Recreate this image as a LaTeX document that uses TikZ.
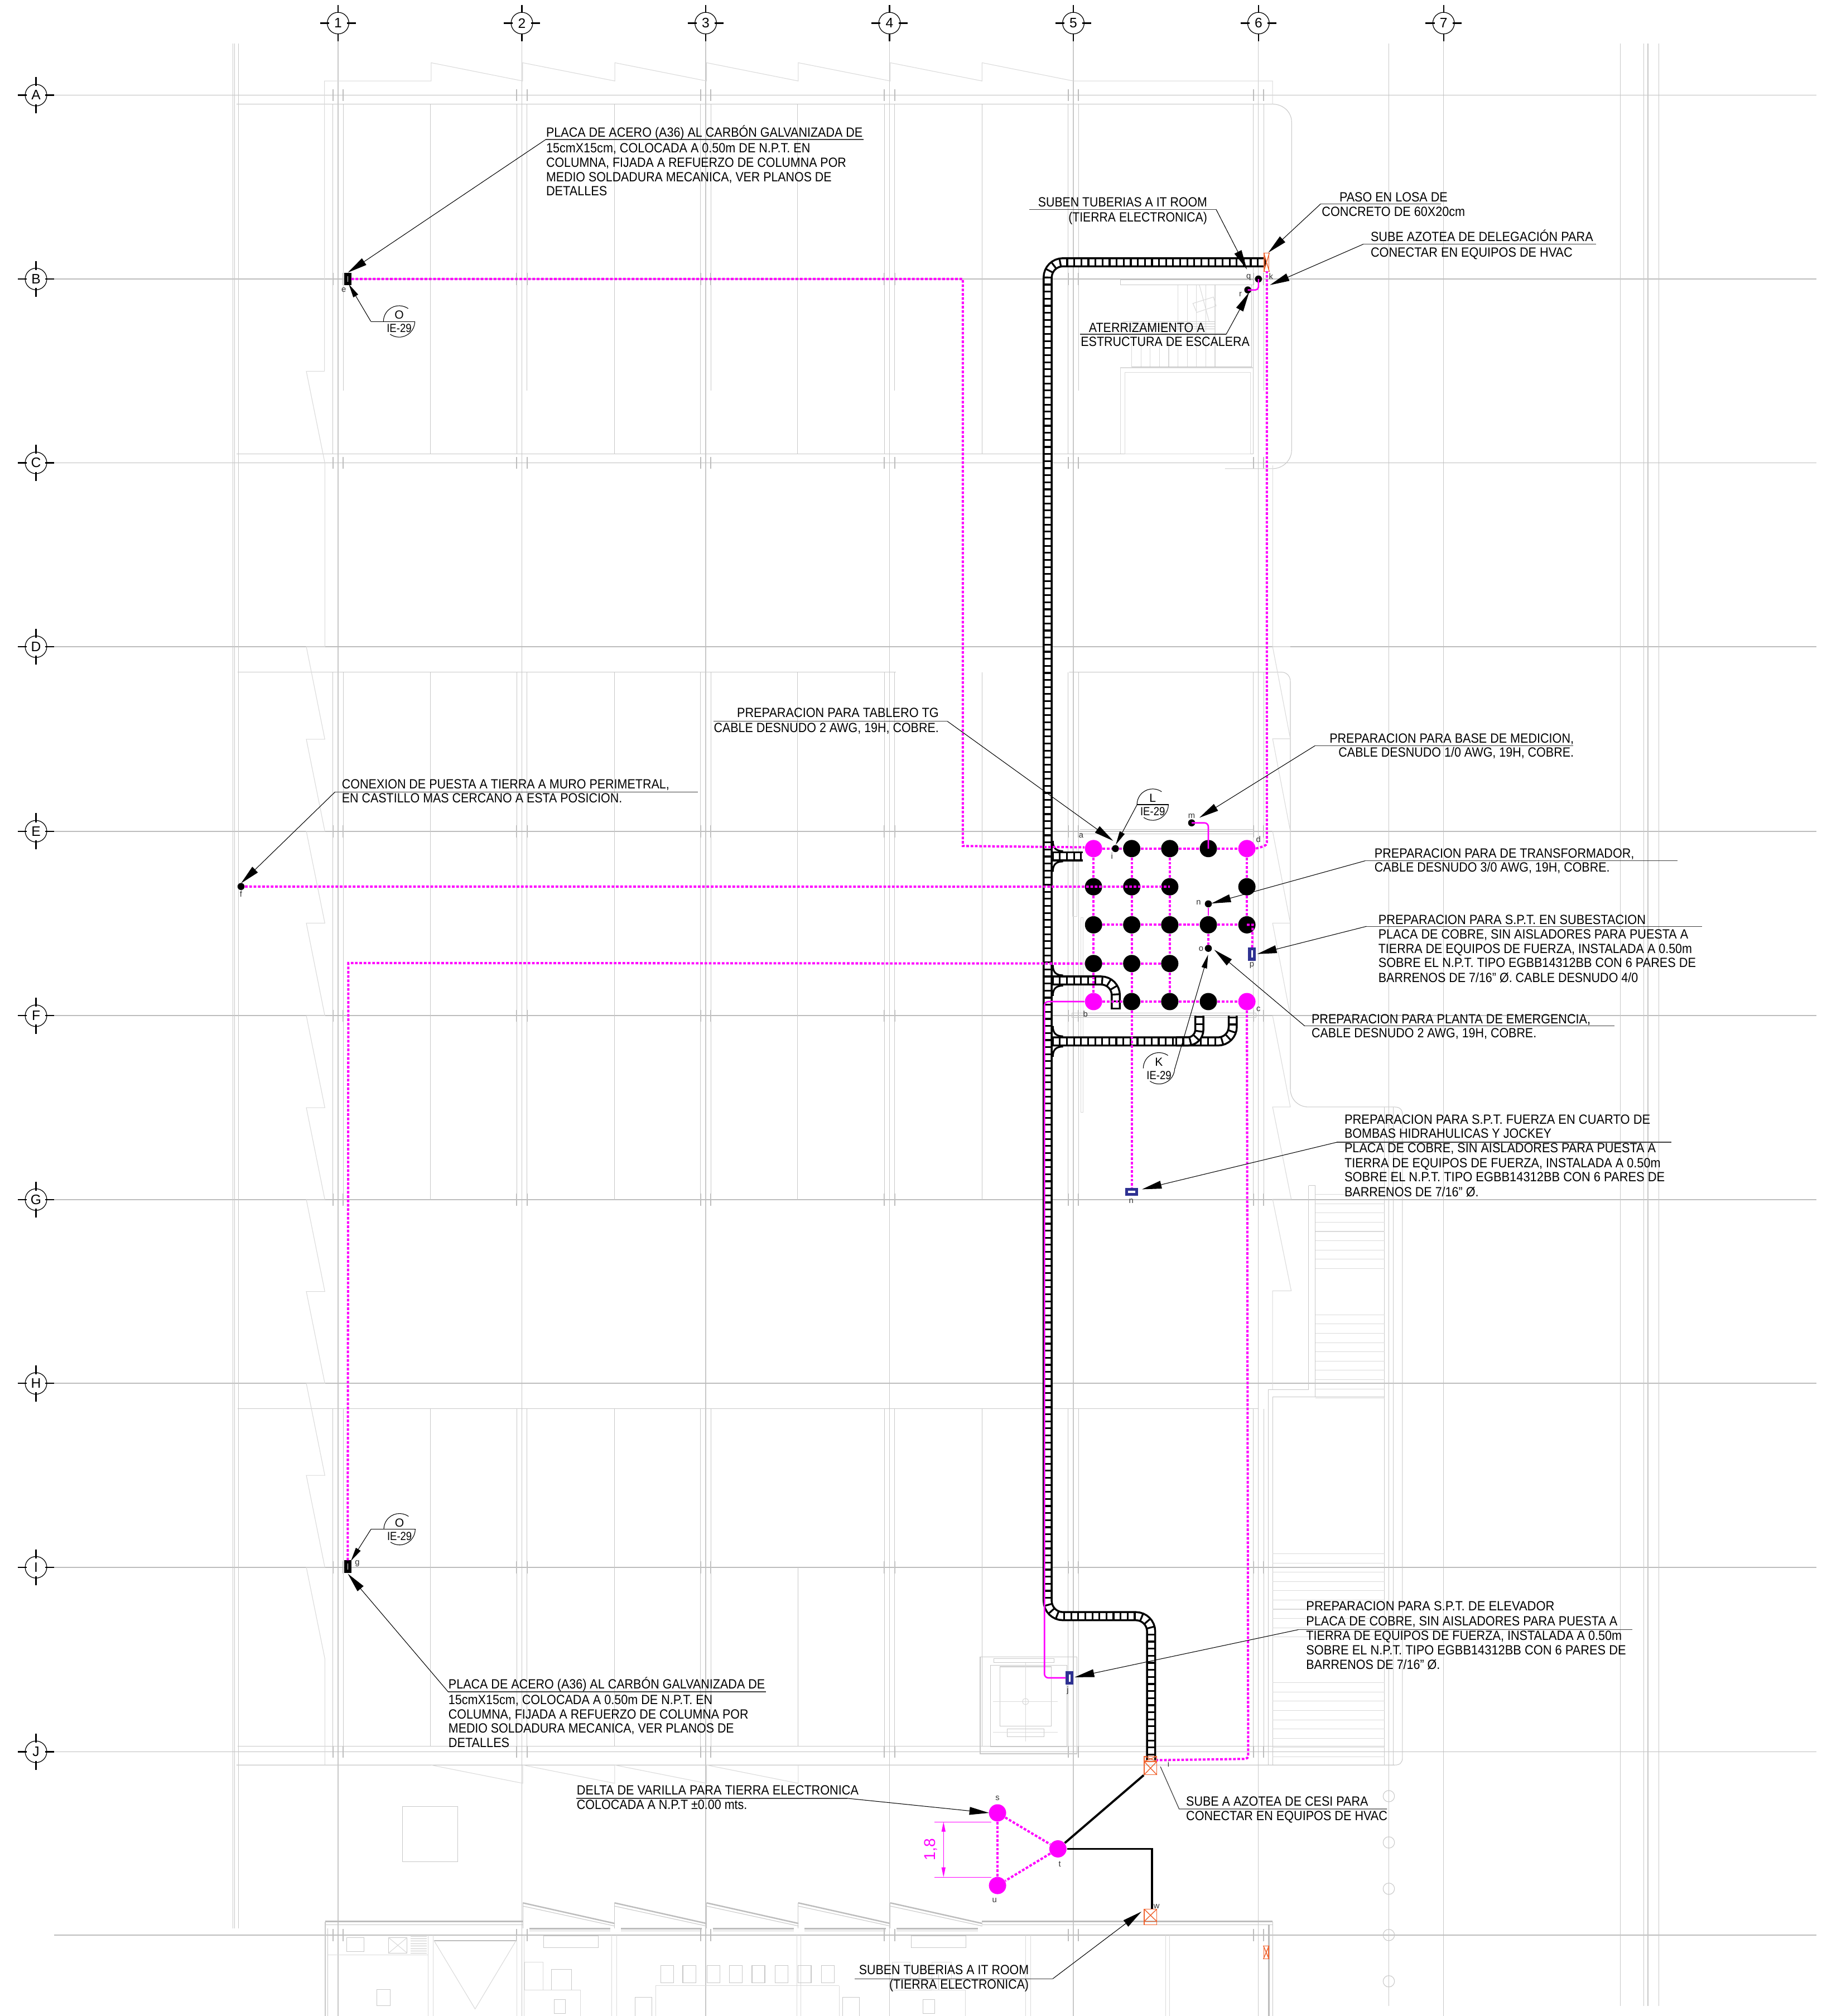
\documentclass[tikz,border=0pt]{standalone}
\usepackage{fontspec}
\usepackage{graphicx}
\setmainfont{Liberation Sans}
\usetikzlibrary{arrows.meta,decorations.markings}
\newdimen\uu \uu=0.02304cm
\newcount\tlc
\definecolor{pk}{HTML}{FF00FF}
\definecolor{gA}{HTML}{BDBDBD}
\definecolor{gB}{HTML}{C8C8C8}
\definecolor{gC}{HTML}{DADADA}
\definecolor{org}{HTML}{F0622D}
\definecolor{blu}{HTML}{2E3192}
\tikzset{
 rowl/.style={draw=gA,line width=.5pt},
 coll/.style={draw=gB,line width=.32pt},
 tck/.style={draw=gA,line width=.6pt},
 lg/.style={draw=gB,line width=.3pt},
 lgt/.style={draw=gC,line width=.3pt},
 lgb/.style={draw=gA,line width=.7pt},
 rail/.style={draw=black,line width=1pt,double=white,double distance=3.1pt},
 rungs/.style={decorate,decoration={markings,mark=between positions 0 and 1 step 3.6pt with {\draw[black,line width=.9pt](0pt,-2.1pt)--(0pt,2.1pt);}}},
 gnd/.style={draw=pk,line width=1.15pt,dash pattern=on 1.35pt off .85pt},
 gsolid/.style={draw=pk,line width=.75pt,rounded corners=2pt},
 bignode/.style={circle,fill=black,minimum size=8.8pt,inner sep=0pt},
 pknode/.style={circle,fill=pk,minimum size=8.8pt,inner sep=0pt},
 smnode/.style={circle,fill=black,minimum size=3.6pt,inner sep=0pt},
 bubble/.style={circle,draw=black,line width=.35pt,minimum size=11pt,inner sep=0pt,font=\fontsize{7}{8}\selectfont},
 bubt/.style={draw=black,line width=.6pt},
 plateb/.style={rectangle,draw=blu,fill=white,line width=1.5pt,inner sep=0pt},
 platek/.style={rectangle,draw=black,fill=white,line width=1.7pt,inner sep=0pt,minimum width=1.9pt,minimum height=4.6pt},
 ldr/.style={draw=black,line width=.3pt,-{Triangle[length=10pt,width=4pt]}},
 ldrs/.style={draw=black,line width=.3pt,-{Triangle[length=7pt,width=2.8pt]}},
 ul/.style={draw=black!75,line width=.35pt},
 orgl/.style={draw=org,line width=.4pt},
 lab/.style={inner sep=0pt,text=black!80,font=\fontsize{4.2}{5}\selectfont},
 txt/.style={anchor=base west,inner sep=0pt},
 dimt/.style={draw=pk,line width=.3pt},
}
% text line: x, baseline y, end x, text
\newcommand{\tl}[4]{\global\advance\tlc by 1 \pgfmathparse{#3-#1}\edef\tlw{\pgfmathresult}%
 \node[txt] (tl\the\tlc) at (#1,#2) {\resizebox{\tlw\uu}{\height}{\fontsize{6.8}{8}\selectfont #4}};}
% leader: name, shoulder x,y, tip x,y, underline other end x
\newcommand{\lead}[6]{\coordinate (#1s) at (#2,#3);\coordinate (#1t) at (#4,#5);\coordinate (#1e) at (#6,#3);
 \draw[ul] (#1e)--(#1s);\draw[ldr] (#1s)--(#1t);}
% detail tag: name, cx, y, left x of leader, letter, tip x,y
\newcommand{\dtag}[7]{\coordinate (#1c) at (#2,#3);\coordinate (#1s) at (#4,#3);\coordinate (#1t) at (#6,#7);\coordinate (#1e) at ({#2+12.5},#3);
 \draw[black,line width=.3pt] (#1s)--(#1e);
 \draw[black,line width=.3pt] ([shift={(55:8pt)}]#1c) arc[start angle=55,end angle=180,radius=8pt];
 \draw[black,line width=.3pt] ([shift={(0:8pt)}]#1c) arc[start angle=0,end angle=-125,radius=8pt];
 \draw[ldrs] (#1s)--(#1t);
 \node[inner sep=0pt,font=\fontsize{6}{7}\selectfont] (#1l) at (#2,{#3-5}) {#5};
 \node[inner sep=0pt] (#1i) at (#2,{#3+5.5}) {\resizebox{19.2\uu}{\height}{\fontsize{6}{7}\selectfont IE-29}};}
\newcommand{\tray}[2][0pt]{\draw[rail,rounded corners=#1]#2;\path[rungs,rounded corners=#1]#2;}
\newcommand{\flare}[1]{\draw[black,line width=.9pt] (819,#1-12) .. controls (819,#1-6) and (822,#1-4) .. (827,#1-4);\draw[black,line width=.9pt] (819,#1+12) .. controls (819,#1+6) and (822,#1+4) .. (827,#1+4);}
\begin{document}
\begin{tikzpicture}[x=0.02304cm,y=-0.02304cm]
\useasboundingbox (0,0) rectangle (1417,1568);
\fill[white] (0,0) rectangle (1417,1568);
%%% ---------- background grid
\foreach \x in {263,406,549,692,835,979,1123} \draw[coll] (\x,26)--(\x,1568);
\foreach \y in {74,217,360,503,646.5,790,933,1076,1219,1362.5,1505} \draw[rowl] (42,\y)--(1413,\y);
\foreach \x in {181.2,182.6,185.7} \draw[coll] (\x,34)--(\x,1500);
\foreach \x in {1080.4,1260.5,1278.6,1282,1290.6} \draw[coll] (\x,34)--(\x,1560);
\foreach \x in {263,406,549,692,835,979} \foreach \y in {74,217,360,646.5,790,933,1219,1362.5,1505}
 {\draw[tck] (\x-4,\y-4.7)--(\x-4,\y+4.7);\draw[tck] (\x+4,\y-4.7)--(\x+4,\y+4.7);}
%%% blocks
\draw[lg] (184,81)--(990,81) .. controls (998,81) and (1004.8,87) .. (1004.8,95)--(1004.8,350) .. controls (1004.8,358) and (998,364.5) .. (990,364.5)--(953,364.5);
\draw[lg] (184,353)--(975,353);
\draw[lg] (185,522.8)--(697,522.8);
\draw[lg] (831.7,522.8)--(997,522.8) .. controls (1001,522.8) and (1003.8,526) .. (1003.8,530)--(1003.8,847) .. controls (1003.8,855) and (1010,861) .. (1018,861)--(1085,861) .. controls (1089,861) and (1091,863) .. (1091,867)--(1091,1367) .. controls (1091,1371) and (1089,1372.8) .. (1085,1372.8)--(184,1372.8);
\draw[lg] (185,1095.6)--(979,1095.6);
\draw[lg] (185,1358)--(1077,1358);
\foreach \x in {335,478,620.5,764} {\draw[lg] (\x,81)--(\x,353);\draw[lg] (\x,522.8)--(\x,933);}
\foreach \x in {335,478,764} \draw[lg] (\x,1095.6)--(\x,1358);
\draw[lg] (621,1219)--(621,1358);
\foreach \x in {263,406,549,692,835,979} {
 \draw[lg] (\x-4,81)--(\x-4,353);\draw[lg] (\x+4,81)--(\x+4,304);
 \draw[lg] (\x-4,522.8)--(\x-4,933);\draw[lg] (\x+4,522.8)--(\x+4,933);
 \draw[lg] (\x-4,1095.6)--(\x-4,1358);\draw[lg] (\x+4,1095.6)--(\x+4,1358);}
%%% saw-tooth outline top
\draw[lgt] (252.4,288.8)--(252.4,63)--(335.4,63)--(335.4,48.8)--(406.6,63)--(406.6,48.8)--(478.3,63)--(478.3,48.8)--(549.7,63)--(549.7,48.8)--(621,63)--(621,48.8)--(692.6,63)--(692.6,48.8)--(764,63)--(764,48.8)--(835,63)--(990,63)--(990,81);
%%% left wall zigzag
\draw[lgt] (252.4,288.8)--(238.3,288.8)--(252.7,360)--(252.7,503)--(238.3,503)--(252.7,575)--(238.3,575)--(252.7,646.5)--(238.3,646.5)--(252.7,718)--(238.3,718)--(252.7,790)--(238.3,790)--(252.7,861.5)--(238.3,861.5)--(252.7,933)--(238.3,933)--(252.7,1004.5)--(238.3,1004.5)--(252.7,1076)--(238.3,1076)--(252.7,1147.5)--(238.3,1147.5)--(252.7,1219)--(238.3,1219)--(252.7,1290)--(252.7,1372.8);
%%% right wall zigzag
\draw[lgt] (990,362)--(990,503)--(1003.8,503);
\draw[lgt] (990,503)--(1003.8,574.6)--(990,574.6)--(1003.8,646.5)--(990,646.5)--(1003.8,718)--(990,718)--(1003.8,790)--(990,790)--(1003.8,861)--(990,861)--(1004.5,932.7)--(990,932.7)--(1004.5,1004)--(990,1004)--(990,1081);
%%% saw-tooth below J
\draw[lgt] (335.3,1372.8)--(406.7,1387)--(406.7,1372.8)--(478.2,1387)--(478.2,1372.8)--(549.7,1387)--(549.7,1372.8)--(621,1387)--(621,1372.8);
\draw[lg] (313,1405) rectangle (356,1448);
%%% stair lower right block
\draw[lg] (1018,922)--(1023.3,922)--(1023.3,1086.6);\draw[lg] (1018,922)--(1018,1081)--(986.6,1081)--(986.6,1372.8);
\draw[lg] (990,1086.6)--(1077,1086.6);\draw[lg] (990,1086.6)--(990,1372.8);
\draw[lg] (1077,861)--(1077,1372.8);\draw[lg] (1084,861)--(1084,1372.8);
\foreach \k in {0,...,8} \draw[lgt] (1023.3,{929+7.2*\k})--(1077,{929+7.2*\k});
\foreach \k in {0,...,9} \draw[lgt] (1023.3,{1022.6+7.2*\k})--(1077,{1022.6+7.2*\k});
\foreach \k in {0,...,9} \draw[lgt] (990,{1208.4+7.2*\k})--(1077,{1208.4+7.2*\k});
\foreach \k in {0,...,8} \draw[lgt] (990,{1308.8+7.2*\k})--(1077,{1308.8+7.2*\k});
%%% stair top
\draw[lg] (871.6,217.5) rectangle (975,221.6);
\foreach \k in {5,...,9} \draw[lgt] ({880.4+7.2*\k},221.6)--({880.4+7.2*\k},285.7);
\foreach \k in {0,...,4} \draw[lgt] ({880.4+7.2*\k},264.8)--({880.4+7.2*\k},285.7);
\foreach \y in {250.3,252,254,256} \draw[lg] (873.4,\y)--(945,\y);
\draw[lg] (973.6,221.6)--(973.6,285.7);
\draw[lgb] (880.4,285.7)--(974,285.7);
\draw[lgt] (871.6,286)--(974.6,286);\draw[lgt] (871.6,286)--(871.6,353);
\draw[lgt] (875.2,289.8) rectangle (972.7,353);
\draw[lgt] (933,221.6)--(940.6,250);\draw[lgt] (928,236)--(931,243)--(946,238)--(944,231)--cycle;
%%% substation background
\draw[lg] (840,645)--(975,645);\draw[lg] (840,648.4)--(975,648.4);
\draw[lgt] (834.3,659) rectangle (837.7,713);
\draw[lgt] (841,713.6) rectangle (842.6,865);
\draw[lg] (834,788) rectangle (977,791.4);
%%% elevator
\draw[lg] (762.5,1288.9) rectangle (837.7,1364);
\draw[lg] (770.5,1295.4) rectangle (829.9,1358.7);
\draw[lg] (777.8,1296.3) rectangle (817.7,1342.5);
\draw[lgt] (772.7,1323.4)--(822.7,1323.4);\draw[lgt] (797.8,1293)--(797.8,1354.4);
\draw[lgt] (797.8,1323.4) circle[radius=1.6pt];
\draw[lg] (783.5,1344.6) rectangle (812,1350.8);
\draw[lgt] (772.7,1347.5)--(822.7,1347.5);
\draw[lg] (773,1290) rectangle (820,1293);
%%% small circles right
\foreach \y in {1397,1433,1469,1505,1541} \draw[lg] (1080.4,\y) circle[radius=2.9pt];
%%% bottom strip
\draw[lgb] (253,1494.5)--(406.7,1494.5);\draw[lg] (253,1497)--(406.7,1497);
\draw[lgb] (764,1494.5)--(990,1494.5);\draw[lg] (764,1497)--(990,1497);
\foreach \x in {406.7,478,549.7,621,692.6} {
 \draw[lgb] (\x,1480)--({\x+71.5},1496);\draw[lg] (\x,1482.5)--({\x+71.5},1498);\draw[lg] (\x,1480)--(\x,1500);
 \draw[lgb] (\x+5,1500)--(\x+68,1500);\draw[lg] (\x+5,1502)--(\x+68,1502);}
\draw[lgb] (987,1497)--(987,1568);\draw[lg] (990,1494.5)--(990,1568);
\draw[lg] (253,1494.5)--(253,1568);\draw[lg] (255,1500)--(255,1568);
\foreach \x in {333,337,402,407.7,476,479.6,620,623,798,801.7,906.6,910} \draw[lgt] (\x,1505)--(\x,1568);
\draw[lg] (422.8,1505.7) rectangle (465.5,1515);
\draw[lg] (709,1505.7) rectangle (751.5,1515);
\draw[lg] (302.3,1507) rectangle (316.7,1519);\draw[lgt] (302.3,1507)--(316.7,1519);\draw[lgt] (302.3,1519)--(316.7,1507);
\foreach \k in {0,...,7} \draw[lg] (319.5,{1506+1.9*\k})--(332,{1506+1.9*\k});
\draw[lg] (269.6,1507) rectangle (283,1518);
\draw[lgt] (255,1520.5)--(333,1520.5);
\draw[lgb] (337.6,1509.3)--(401.5,1509.3);\draw[lgt] (337.6,1509.3)--(369.6,1562.5)--(401.5,1509.3);
\draw[lgt] (408,1526) rectangle (422.5,1548);
\draw[lg] (429,1531.6) rectangle (444.5,1548);
\draw[lgt] (408,1548)--(451.5,1548)--(451.5,1568);
\draw[lg] (431,1555) rectangle (440,1566);
\foreach \x in {514,531.2,550,567.3,585,603,621,639} \draw[lg] (\x,1528.5) rectangle (\x+10,1542.3);
\draw[lgt] (510,1544.5)--(652.8,1544.5);\draw[lgt] (510,1544.5)--(510,1568);\draw[lgt] (652.8,1544.5)--(652.8,1568);
\draw[lg] (494,1553.5) rectangle (507,1568);\draw[lg] (655.4,1553.5) rectangle (668.4,1568);
\draw[lg] (293,1547.4) rectangle (303.4,1560);
\draw[lgt] (695,1548)--(751,1548)--(751,1568);
\draw[lg] (715,1531.6) rectangle (730,1548);\draw[lg] (718,1555) rectangle (727,1566);
\draw[lgt] (694,1526) rectangle (708,1548);
\draw[lgt] (725,1526) rectangle (740,1548);
%%% ---------- bubbles
\foreach \n/\x in {1/263,2/406,3/549,4/692,5/835,6/979,7/1123} {
 \node[bubble] (col\n) at (\x,18) {\n};
 \draw[bubt] (\x-14,18)--(\x-7,18);\draw[bubt] (\x+7,18)--(\x+14,18);\draw[bubt] (\x,4)--(\x,10);\draw[bubt] (\x,26)--(\x,32);}
\foreach \n/\y in {A/74,B/217,C/360,D/503,E/646.5,F/790,G/933,H/1076,I/1219,J/1362.5} {
 \node[bubble] (row\n) at (28,\y) {\n};
 \draw[bubt] (14,\y)--(21,\y);\draw[bubt] (35,\y)--(42,\y);\draw[bubt] (28,\y-14)--(28,\y-7);\draw[bubt] (28,\y+7)--(28,\y+14);}
%%% ---------- cable trays
\tray[7.8pt]{(984,204)--(815,204)--(815,1257)--(895.5,1257)--(895.5,1369)}
\tray{(819,666)--(842.5,666)}
\tray[7.5pt]{(819,762.6)--(868,762.6)--(868,785)}
\tray[7.5pt]{(819,810)--(959,810)--(959,790)}
\tray[6pt]{(915,810)--(933,810)--(933,790)}
\flare{666}\flare{762.6}\flare{810}
%%% ---------- ground nodes
\node[pknode] (a) at (850.7,660) {};
\node[bignode] (r12) at (880.4,660) {};
\node[bignode] (r13) at (910,660) {};
\node[bignode] (r14) at (940,660) {};
\node[pknode] (d) at (970,660) {};
\node[bignode] (r21) at (850.7,689.7) {};
\node[bignode] (r22) at (880.4,689.7) {};
\node[bignode] (r23) at (910,689.7) {};
\node[bignode] (r25) at (970,689.7) {};
\node[bignode] (r31) at (850.7,719.3) {};
\node[bignode] (r32) at (880.4,719.3) {};
\node[bignode] (r33) at (910,719.3) {};
\node[bignode] (r34) at (940,719.3) {};
\node[bignode] (r35) at (970,719.3) {};
\node[bignode] (r41) at (850.7,749.4) {};
\node[bignode] (r42) at (880.4,749.4) {};
\node[bignode] (r43) at (910,749.4) {};
\node[pknode] (b) at (850.7,779) {};
\node[bignode] (r52) at (880.4,779) {};
\node[bignode] (r53) at (910,779) {};
\node[bignode] (r54) at (940,779) {};
\node[pknode] (c) at (970,779) {};
\node[smnode] (i) at (867.7,660) {};
\node[smnode] (m) at (927,640) {};
\node[smnode] (n) at (940,703) {};
\node[smnode] (o) at (940,737.6) {};
\node[smnode] (f) at (187.5,689.5) {};
\node[smnode] (q) at (979,217) {};
\node[smnode] (r) at (970.7,225.5) {};
\node[plateb,minimum width=2.4pt,minimum height=5.2pt] (p) at (974,742) {};
\node[plateb,minimum width=5.2pt,minimum height=2.4pt] (nn) at (880.4,927) {};
\node[plateb,minimum width=2.4pt,minimum height=5.2pt] (j) at (832,1305) {};
\node[platek] (e) at (270.5,217) {};
\node[platek] (g) at (270.5,1218.4) {};
\node[pknode] (s) at (776,1410) {};
\node[pknode] (t) at (823,1438) {};
\node[pknode] (u) at (776,1466.5) {};
%%% orange penetrations
\node[draw=org,line width=.4pt,minimum width=2.5pt,minimum height=9.3pt,inner sep=0pt,rectangle] (ok) at (985.3,204) {};
\draw[orgl] (ok.north west)--(ok.south east);\draw[orgl] (ok.north east)--(ok.south west);
\node[draw=org,line width=.4pt,minimum width=6.5pt,minimum height=9.4pt,inner sep=0pt,rectangle] (oi) at (895,1373.2) {};
\draw[orgl] (890,1370)--(900,1370);\draw[orgl] (890,1370)--(900,1380.4);\draw[orgl] (900,1370)--(890,1380.4);\draw[orgl] (890,1366)--(900,1370);\draw[orgl] (900,1366)--(890,1370);
\node[draw=org,line width=.4pt,minimum width=6.5pt,minimum height=8pt,inner sep=0pt,rectangle] (ow) at (895,1490.9) {};
\draw[orgl] (890,1494.5)--(900,1494.5);\draw[orgl] (890,1484.8)--(900,1494.5);\draw[orgl] (900,1484.8)--(890,1494.5);
\node[draw=org,line width=.4pt,minimum width=2.5pt,minimum height=6.5pt,inner sep=0pt,rectangle] (ox) at (985,1518.5) {};
\draw[orgl] (ox.north west)--(ox.south east);\draw[orgl] (ox.north east)--(ox.south west);
%%% ---------- ground conductors
\draw[gnd] (e)--(749,217)--(749,658)--(a.172);
\draw[gnd] (g)--(271,749)--(r41);
\draw[gnd] (f)--(r23.center);
\draw[gnd] (a)--(i);\draw[gnd] (i)--(r12);\draw[gnd] (r12)--(r13);\draw[gnd] (r13)--(r14);\draw[gnd] (r14)--(d);
\draw[gnd] (r31)--(r32);\draw[gnd] (r32)--(r33);\draw[gnd] (r33)--(r34);\draw[gnd] (r34)--(r35);
\draw[gnd] (r41)--(r42);\draw[gnd] (r42)--(r43);
\draw[gnd] (b)--(r52);\draw[gnd] (r52)--(r53);\draw[gnd] (r53)--(r54);\draw[gnd] (r54)--(c);
\draw[gnd] (a)--(r21);\draw[gnd] (r21)--(r31);\draw[gnd] (r31)--(r41);\draw[gnd] (r41)--(b);
\draw[gnd] (r12)--(r22);\draw[gnd] (r22)--(r32);\draw[gnd] (r32)--(r42);\draw[gnd] (r42)--(r52);\draw[gnd] (r52)--(nn);
\draw[gnd] (r13)--(r23);\draw[gnd] (r23)--(r33);\draw[gnd] (r33)--(r43);\draw[gnd] (r43)--(r53);
\draw[gnd] (d)--(r25);\draw[gnd] (r25)--(r35);
\draw[gnd] (r34)--(o);
\draw[gnd] (r35.center)--(974.5,719.3)--(p);
\draw[gnd,rounded corners=1.5pt] (d.east)--(985.5,657.5)--(985.5,211);
\draw[gnd,rounded corners=1.5pt] (c)--(971,1368)--(900,1369);
\draw[gnd] (s)--(t);\draw[gnd] (t)--(u);\draw[gnd] (s)--(u);
\draw[gsolid] (m.center)--(940,640)--(r14.center);
\draw[gsolid] (n)--(r34);
\draw[gsolid] (b)--(812.5,779)--(812.5,1305)--(j);
\draw[gsolid,rounded corners=1.5pt] (q.center)--(979,225.5)--(r.center);
\draw[black,line width=1.1pt] (t)--(oi.south west);
\draw[black,line width=1.1pt] (t)--(896,1438)--(896,1484.8);
%%% dimension
\coordinate (dt) at (734,1417);\coordinate (db) at (734,1460);
\draw[dimt] (727,1417)--(771,1417);\draw[dimt] (727,1460)--(771,1460);
\draw[dimt,{Triangle[length=5pt,width=2pt]}-{Triangle[length=5pt,width=2pt]}] (dt)--(db);
\node[inner sep=0pt,rotate=90,text=pk,font=\fontsize{8}{9}\selectfont] (dim) at (724,1438.5) {1,8};
%%% ---------- small labels
\foreach \nm/\tx/\x/\y in {la/a/841/650,ld/d/979/653,li/i/865/666,lm/m/927/634.6,ln/n/932.4/702,lo/o/934.3/738,lp/p/973.8/751,lb/b/844.4/788.6,lc/c/979/785,lnn/n/880/934,lj/j/830.7/1314.7,le/e/267.4/225.7,lg/g/278/1216,lf/f/187.5/695.5,lk/k/988.7/215,lq/q/971.3/215.7,lr/r/965/229,lss/s/776/1398.6,ltt/t/824.4/1449.8,luu/u/773.7/1478,lw/w/899.7/1482.6,lii/i/909/1372}
 \node[lab] (\nm) at (\x,\y) {\tx};
%%% ---------- detail tags
\dtag{dO}{310.5}{250}{288.5}{O}{271.3}{221}
\dtag{dP}{310.8}{1189.4}{288.6}{O}{273}{1214}
\dtag{dL}{896.7}{625.8}{884.6}{L}{868}{657}
\dtag{dK}{901.6}{830.9}{914}{K}{939.8}{742.5}
%%% ---------- leaders
\lead{A}{424.6}{108.5}{270.6}{212}{672}
\tl{424.6}{106.7}{670.8}{PLACA DE ACERO (A36) AL CARBÓN GALVANIZADA DE}
\tl{424.6}{118.7}{630}{15cmX15cm, COLOCADA A 0.50m DE N.P.T. EN}
\tl{424.6}{129.9}{658}{COLUMNA, FIJADA A REFUERZO DE COLUMNA POR}
\tl{424.6}{141.1}{646.6}{MEDIO SOLDADURA MECANICA, VER PLANOS DE}
\tl{424.6}{152.2}{472}{DETALLES}
\lead{B}{348.6}{1315.8}{270.6}{1224}{595.9}
\tl{348.6}{1313.3}{594.8}{PLACA DE ACERO (A36) AL CARBÓN GALVANIZADA DE}
\tl{348.6}{1325.5}{554}{15cmX15cm, COLOCADA A 0.50m DE N.P.T. EN}
\tl{348.6}{1336.7}{581.9}{COLUMNA, FIJADA A REFUERZO DE COLUMNA POR}
\tl{348.6}{1347.9}{570.7}{MEDIO SOLDADURA MECANICA, VER PLANOS DE}
\tl{348.6}{1359}{396}{DETALLES}
\lead{C}{260.6}{616}{187.5}{687}{542.8}
\tl{265.7}{613.3}{520.4}{CONEXION DE PUESTA A TIERRA A MURO PERIMETRAL,}
\tl{265.7}{624.3}{483.7}{EN CASTILLO MAS CERCANO A ESTA POSICION.}
\lead{D}{737}{561}{866}{654}{555}
\tl{573}{558}{730}{PREPARACION PARA TABLERO TG}
\tl{555}{569.4}{730}{CABLE DESNUDO 2 AWG, 19H, COBRE.}
\lead{E}{1023}{580}{933}{636}{1224}
\tl{1034}{578}{1224}{PREPARACION PARA BASE DE MEDICION,}
\tl{1041}{588.5}{1224}{CABLE DESNUDO 1/0 AWG, 19H, COBRE.}
\lead{F}{1062}{669.5}{942.3}{702.7}{1305}
\tl{1069}{667.3}{1271}{PREPARACION PARA DE TRANSFORMADOR,}
\tl{1069}{678.3}{1252}{CABLE DESNUDO 3/0 AWG, 19H, COBRE.}
\lead{G}{1063}{720.5}{978}{742}{1324}
\tl{1072}{719}{1280}{PREPARACION PARA S.P.T. EN SUBESTACION}
\tl{1072}{730}{1313}{PLACA DE COBRE, SIN AISLADORES PARA PUESTA A}
\tl{1072}{741.3}{1316}{TIERRA DE EQUIPOS DE FUERZA, INSTALADA A 0.50m}
\tl{1072}{752.5}{1319}{SOBRE EL N.P.T. TIPO EGBB14312BB CON 6 PARES DE}
\tl{1072}{764}{1274}{BARRENOS DE 7/16" Ø. CABLE DESNUDO 4/0}
\lead{H}{1015}{798}{944.6}{738.7}{1256}
\tl{1020}{796}{1237}{PREPARACION PARA PLANTA DE EMERGENCIA,}
\tl{1020}{807}{1195}{CABLE DESNUDO 2 AWG, 19H, COBRE.}
\lead{I}{1040}{888.4}{888.4}{925}{1300}
\tl{1045.6}{874.3}{1283.5}{PREPARACION PARA S.P.T. FUERZA EN CUARTO DE}
\tl{1045.6}{885.3}{1206.6}{BOMBAS HIDRAHULICAS Y JOCKEY}
\tl{1045.6}{896.6}{1287.8}{PLACA DE COBRE, SIN AISLADORES PARA PUESTA A}
\tl{1045.6}{908}{1291.5}{TIERRA DE EQUIPOS DE FUERZA, INSTALADA A 0.50m}
\tl{1045.6}{919}{1294.8}{SOBRE EL N.P.T. TIPO EGBB14312BB CON 6 PARES DE}
\tl{1045.6}{930.8}{1150}{BARRENOS DE 7/16" Ø.}
\lead{J}{1010}{1267.5}{836}{1304.5}{1270}
\tl{1015.8}{1252.9}{1209}{PREPARACION PARA S.P.T. DE ELEVADOR}
\tl{1015.8}{1264.3}{1258}{PLACA DE COBRE, SIN AISLADORES PARA PUESTA A}
\tl{1015.8}{1275.5}{1261.4}{TIERRA DE EQUIPOS DE FUERZA, INSTALADA A 0.50m}
\tl{1015.8}{1287}{1264.6}{SOBRE EL N.P.T. TIPO EGBB14312BB CON 6 PARES DE}
\tl{1015.8}{1298.3}{1120}{BARRENOS DE 7/16" Ø.}
%%% delta
\coordinate (Ks) at (448.4,1398.7);\coordinate (Km) at (659.3,1398.7);\coordinate (Kt) at (769.4,1410);
\draw[ul] (Ks)--(Km);\draw[ldr] (Km)--(Kt);
\tl{448.4}{1396}{667.6}{DELTA DE VARILLA PARA TIERRA ELECTRONICA}
\tl{448.4}{1407}{581}{COLOCADA A N.P.T ±0.00 mts.}
%%% cesi
\coordinate (Ls) at (902.7,1374);\coordinate (Lm) at (917.3,1407);\coordinate (Le) at (1079,1407);
\draw[ul] (Ls)--(Lm)--(Le);
\tl{922.4}{1404.5}{1064}{SUBE A AZOTEA DE CESI PARA}
\tl{922.4}{1416}{1079}{CONECTAR EN EQUIPOS DE HVAC}
\lead{M}{819}{1539}{888}{1486.8}{665}
\tl{668}{1535.5}{800}{SUBEN TUBERIAS A IT ROOM}
\tl{691.5}{1547}{800}{(TIERRA ELECTRONICA)}
\lead{N}{946}{162.8}{970}{209.5}{800.8}
\tl{807.3}{160.9}{938.8}{SUBEN TUBERIAS A IT ROOM}
\tl{830.9}{172.6}{938.8}{(TIERRA ELECTRONICA)}
\lead{P}{1027.4}{158.6}{986.6}{196.5}{1121}
\tl{1041.7}{156.7}{1125.8}{PASO EN LOSA DE}
\tl{1028}{168.3}{1139.4}{CONCRETO DE 60X20cm}
\lead{Q}{1060.6}{189.9}{987.9}{221.7}{1241.6}
\tl{1066}{187.7}{1239}{SUBE AZOTEA DE DELEGACIÓN PARA}
\tl{1066}{199.9}{1223}{CONECTAR EN EQUIPOS DE HVAC}
\lead{R}{953.9}{260}{971.7}{227.4}{840}
\tl{846.8}{258.3}{936.9}{ATERRIZAMIENTO A}
\tl{840.5}{269.4}{971.8}{ESTRUCTURA DE ESCALERA}
\end{tikzpicture}
\end{document}
